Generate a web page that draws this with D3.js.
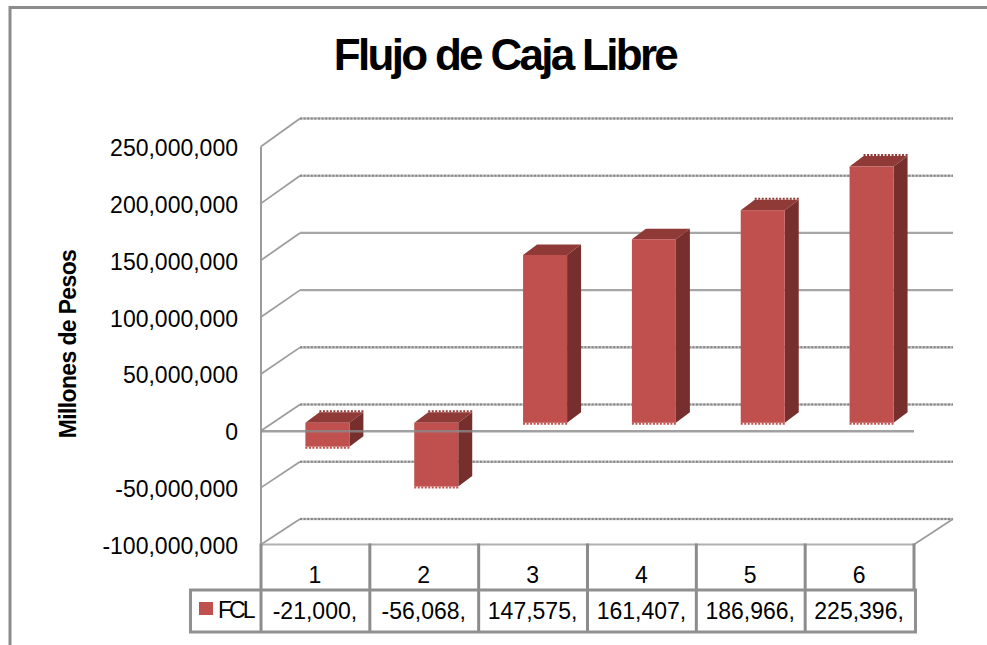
<!DOCTYPE html>
<html><head><meta charset="utf-8">
<script src="https://cdnjs.cloudflare.com/ajax/libs/d3/7.8.5/d3.min.js"></script>
<style>html,body{margin:0;padding:0;background:#fff}svg{display:block}text{font-family:"Liberation Sans",Arial,sans-serif;fill:#000}</style>
</head><body><svg id="c" width="987" height="645"></svg>
<script>
const categories = ["1","2","3","4","5","6"];
const seriesName = "FCL";
const values = [-21000000,-56068000,147575000,161407000,186966000,225396000];
const tableLabels = ["-21,000,","-56,068,","147,575,","161,407,","186,966,","225,396,"];
const yTicks = [-100000000,-50000000,0,50000000,100000000,150000000,200000000,250000000];
const dottedTicks = [-100000000,-50000000,0,50000000,200000000,250000000];
const jaggedTopBars = ["1","2","5","6"];

const svg = d3.select("#c");
const GRID="#9c9c9c", TABLE="#8c8c8c";
const y = d3.scaleLinear().domain([-100000000,250000000]).range([544.5,146.5]);
const yBack = d3.scaleLinear().domain([-100000000,250000000]).range([519,118.5]);
const x = d3.scaleBand().domain(categories).range([261,914]);
const backDx = 39, barDx = 44.4, barW = 44, barLift = 8, depthX = 14, depthY = 10.5;

// frame
svg.append("path").attr("d","M10,645V7.5H987").attr("fill","none").attr("stroke",TABLE).attr("stroke-width",3);

// title
svg.append("text").attr("x",505).attr("y",70).attr("text-anchor","middle")
  .attr("font-size",44).attr("font-weight",700).attr("letter-spacing",-2.7).text("Flujo de Caja Libre");
svg.append("text").attr("transform","translate(76,344) rotate(-90)").attr("text-anchor","middle")
  .attr("font-size",23).attr("font-weight",700).attr("letter-spacing",-0.65).text("Millones de Pesos");

// walls
const g = svg.append("g");
yTicks.forEach(t=>{
  const yb=yBack(t), dotted=dottedTicks.includes(t);
  g.append("line").attr("x1",261).attr("y1",y(t)).attr("x2",261+backDx).attr("y2",yb)
    .attr("stroke",GRID).attr("stroke-width",1.7);
  g.append("line").attr("x1",261+backDx).attr("x2",953).attr("y1",yb).attr("y2",yb)
    .attr("stroke",dotted?"#c4c4c4":"#a6a6a6").attr("stroke-width",dotted?2.6:2.2);
  if(dotted) g.append("line").attr("x1",261+backDx).attr("x2",953).attr("y1",yb).attr("y2",yb)
    .attr("stroke","#868686").attr("stroke-width",2).attr("stroke-dasharray","2 1.6");
});
g.append("line").attr("x1",914).attr("y1",y(-100000000)).attr("x2",953).attr("y2",yBack(-100000000))
  .attr("stroke",GRID).attr("stroke-width",1.7);
g.append("line").attr("x1",261).attr("x2",261).attr("y1",y(250000000)).attr("y2",y(-100000000))
  .attr("stroke",GRID).attr("stroke-width",2);

// bars
const bars = svg.append("g").selectAll("g").data(values).join("g");
const bx = (d,i)=>x(categories[i])+barDx;
const topY = d=>Math.min(y(d),y(0))-barLift;
const botY = d=>Math.max(y(d),y(0))-barLift;
bars.append("path").attr("fill","#8f3a37").attr("d",(d,i)=>{
  const l=bx(d,i),t=topY(d);
  return `M${l},${t}L${l+depthX},${t-depthY}H${l+barW+depthX}L${l+barW},${t}Z`;});
bars.append("path").attr("fill","#772f2d").attr("d",(d,i)=>{
  const r=bx(d,i)+barW,t=topY(d),b=botY(d);
  return `M${r},${t}L${r+depthX},${t-depthY}V${b-depthY}L${r},${b}Z`;});
bars.append("rect").attr("fill","#c0504d").attr("x",(d,i)=>bx(d,i)).attr("width",barW)
  .attr("y",d=>topY(d)).attr("height",d=>botY(d)-topY(d));
// stair-stepped edges of the raster source
bars.append("line").attr("stroke","#c0504d").attr("stroke-width",2).attr("stroke-dasharray","2 1.5")
  .attr("x1",(d,i)=>bx(d,i)).attr("x2",(d,i)=>bx(d,i)+barW)
  .attr("y1",d=>botY(d)+1).attr("y2",d=>botY(d)+1);
bars.filter((d,i)=>jaggedTopBars.includes(categories[i])).append("line")
  .attr("stroke","#8f3a37").attr("stroke-width",2).attr("stroke-dasharray","2 1.5")
  .attr("x1",function(d){return bx(d,values.indexOf(d))+depthX;})
  .attr("x2",function(d){return bx(d,values.indexOf(d))+depthX+barW;})
  .attr("y1",d=>topY(d)-depthY-1).attr("y2",d=>topY(d)-depthY-1);

// zero line, in front
svg.append("line").attr("x1",261).attr("x2",914).attr("y1",y(0)+.5).attr("y2",y(0)+.5)
  .attr("stroke","#8a8a8a").attr("stroke-opacity",.8).attr("stroke-width",2.4);

// value axis
const fmt = d3.format(",");
const ax = svg.append("g").attr("transform","translate(261,0)")
  .call(d3.axisLeft(y).tickValues(yTicks).tickFormat(v=>fmt(v).replace("\u2212","-")).tickSize(0).tickPadding(23));
ax.select(".domain").remove();
ax.selectAll("text").attr("font-size",23).attr("font-family",'"Liberation Sans",Arial,sans-serif')
  .attr("dy","9px");

// data table
const t = svg.append("g").attr("fill","none").attr("stroke",TABLE);
t.append("line").attr("x1",261).attr("x2",914).attr("y1",y(-100000000)).attr("y2",y(-100000000)).attr("stroke","#b0b0b0").attr("stroke-width",2);
[...categories,"end"].forEach((c,i)=>{
  const px = i<categories.length ? x(c) : x.range()[1];
  t.append("line").attr("x1",px).attr("x2",px).attr("y1",y(-100000000)-1).attr("y2",i<categories.length?632:590).attr("stroke-width",3);
});
t.append("path").attr("d","M190.5,632V590H915.5V632H190.5Z").attr("stroke-width",3).attr("stroke","#909090");
svg.append("rect").attr("x",199).attr("y",602).attr("width",14).attr("height",13).attr("fill","#c0504d");
svg.append("text").attr("x",218).attr("y",618).attr("font-size",23).attr("letter-spacing",-3).text(seriesName);
svg.append("g").selectAll("text").data(categories).join("text")
  .attr("x",c=>x(c)+x.bandwidth()/2-.5).attr("y",583).attr("text-anchor","middle").attr("font-size",23).text(c=>c);
svg.append("g").selectAll("text").data(tableLabels).join("text")
  .attr("x",(d,i)=>x(categories[i])+x.bandwidth()/2-.5).attr("y",619).attr("text-anchor","middle").attr("font-size",23).text(d=>d);
</script></body></html>
